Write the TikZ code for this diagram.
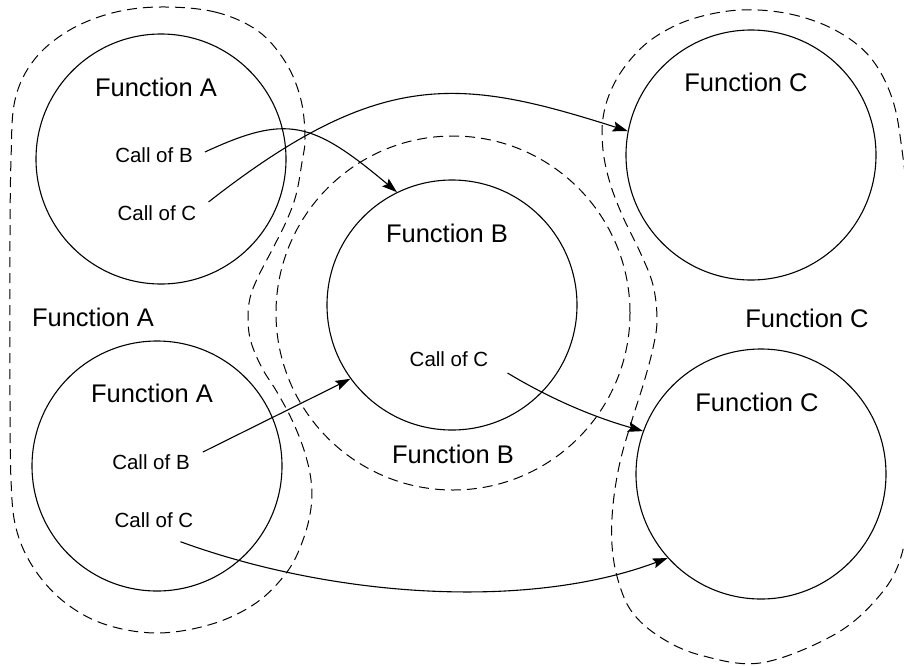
\documentclass[tikz,border=0pt]{standalone}
\usepackage{fontspec}
\setmainfont{Liberation Sans}
\usetikzlibrary{arrows.meta}
\begin{document}
\begin{tikzpicture}[x=1pt, y=-1pt,
  fcircle/.style={draw, circle, line width=1.1pt, minimum size=250pt, inner sep=0pt},
  bigtxt/.style={font=\fontsize{25.5}{30}\selectfont, inner sep=0pt},
  smalltxt/.style={font=\fontsize{20.5}{24}\selectfont, inner sep=0pt},
  region/.style={dash pattern=on 10pt off 6pt, line width=1pt},
  callarrow/.style={line width=1.1pt, -{Stealth[length=15pt,width=10pt,inset=2.5pt]}}]
\useasboundingbox (0,0) rectangle (904,665);
\clip (0,0) rectangle (904,665);

% dashed group regions
\draw[region] plot[smooth cycle, tension=0.6] coordinates {
  (160,7) (215,12) (258,31) (286,63) (301,100) (305,138) (302,162) (296,195)
  (286,222) (272,250) (258,277) (250,298) (248,320) (251,342) (262,368)
  (277,392) (292,420) (304,450) (311,480) (311,508) (303,540) (287,572)
  (256,603) (212,624) (157,633) (104,624) (63,601) (33,567) (16,528)
  (11,480) (10,400) (10,320) (10,240) (11,160) (15,100) (34,60) (68,31) (112,13)};
\draw[region] (453,313) circle[radius=177pt];
\draw[region] plot[smooth cycle, tension=0.6] coordinates {
  (740,10) (790,14) (835,30) (870,57) (892,98) (902,150) (910,230) (914,360)
  (910,490) (900,560) (873,603) (830,637) (760,663) (700,655) (660,637)
  (632,612) (618,580) (612,545) (613,505) (620,462) (632,420) (644,382)
  (653,348) (657,320) (653,285) (640,252) (623,217) (610,183) (603,150)
  (603,118) (612,88) (630,60) (655,37) (692,19)};

% function circles
\node[fcircle] (A1) at (161,159) {};
\node[fcircle] (A2) at (157,466) {};
\node[fcircle] (B)  at (452,305) {};
\node[fcircle] (C1) at (751,155) {};
\node[fcircle] (C2) at (761,474) {};

% labels
\node[bigtxt] (fa1) at (156,87) {Function A};
\node[smalltxt] (cb1) at (154,155) {Call of B};
\node[smalltxt] (cc1) at (157,213) {Call of C};
\node[bigtxt] (faL) at (93,317) {Function A};
\node[bigtxt] (fa2) at (152,393) {Function A};
\node[smalltxt] (cb2) at (151,462) {Call of B};
\node[smalltxt] (cc2) at (154,520) {Call of C};
\node[bigtxt] (fb1) at (447,233) {Function B};
\node[smalltxt] (cc3) at (449,359) {Call of C};
\node[bigtxt] (fbL) at (453,454) {Function B};
\node[bigtxt] (fc1) at (746,82) {Function C};
\node[bigtxt] (fcL) at (807,318) {Function C};
\node[bigtxt] (fc2) at (757,402) {Function C};

% calls
\draw[callarrow] ([shift={(12pt,3pt)}]cb1.east) .. controls (287,114) and (312,121) .. (B.116);
\draw[callarrow] ([shift={(12pt,11pt)}]cc1.east) .. controls (381,67) and (461,78) .. (C1.169);
\draw[callarrow] ([shift={(13pt,10pt)}]cb2.east) -- (B.216);
\draw[callarrow] ([shift={(19pt,-14pt)}]cc3.east) .. controls (554,401) and (597,418) .. (C2.160);
\draw[callarrow] ([shift={(-13pt,-14pt)}]cc2.south east) .. controls (335,598) and (529,610) .. (C2.222);
\end{tikzpicture}
\end{document}
